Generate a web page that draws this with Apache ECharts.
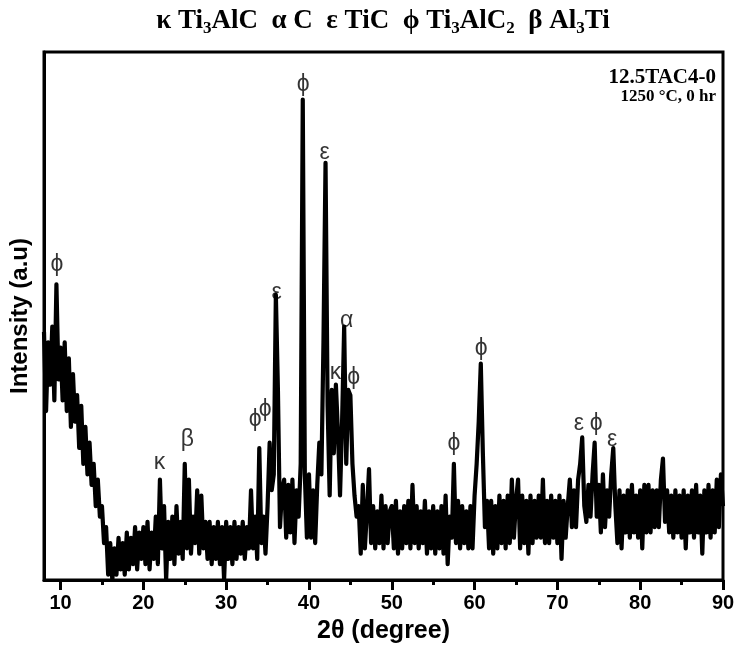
<!DOCTYPE html>
<html>
<head>
<meta charset="utf-8">
<script src="https://cdn.jsdelivr.net/npm/echarts@6/dist/echarts.min.js"></script>
<style>
  html, body { margin: 0; padding: 0; background: #fff; }
  #chart { width: 740px; height: 654px; }
</style>
</head>
<body>
<div id="chart"></div>
<script>
// XRD scan, 2theta from 8 to 90 deg, one value every 0.25 deg
var startAngle = 8;
var stepAngle = 0.25;
var intensity = [
  47, 32, 45, 37,   // 8
  48, 34, 56, 38,   // 9
  44, 34, 45, 32,   // 10
  42, 29, 39, 30,   // 11
  35, 25, 33, 22,   // 12
  29, 20, 26, 18,   // 13
  22, 14, 19, 12,   // 14
  14, 7, 10, 1,     // 15
  7, 0, 6, 1,       // 16
  8, 2, 7, 1,       // 17
  9, 2, 8, 3,       // 18
  10, 2, 9, 4,      // 19
  10, 3, 11, 2,     // 20
  9, 4, 12, 3,      // 21
  19, 6, 14, 0,     // 22
  11, 4, 12, 3,     // 23
  14, 5, 11, 4,     // 24
  22, 6, 19, 5,     // 25
  12, 7, 17, 5,     // 26
  16, 6, 11, 4,     // 27
  11, 3, 10, 4,     // 28
  11, 3, 10, 0,     // 29
  11, 4, 10, 3,     // 30
  11, 4, 10, 5,     // 31
  11, 4, 10, 6,     // 32
  17, 6, 12, 4,     // 33
  25, 7, 12, 5,     // 34
  14, 26, 17, 20,   // 35
  54, 36, 10, 17,   // 36
  19, 8, 18, 9,     // 37
  19, 7, 17, 12,    // 38
  22, 91, 20, 8,    // 39
  20, 8, 17, 7,     // 40
  18, 26, 20, 45,   // 41
  79, 33, 16, 36,   // 42
  24, 37, 28, 16,   // 43
  30, 48, 22, 36,   // 44
  35, 22, 16, 12,   // 45
  14, 5, 18, 6,     // 46
  13, 21, 7, 14,    // 47
  6, 13, 7, 16,     // 48
  6, 14, 7, 13,     // 49
  14, 6, 15, 5,     // 50
  13, 6, 14, 7,     // 51
  15, 6, 18, 7,     // 52
  14, 6, 13, 7,     // 53
  15, 5, 13, 6,     // 54
  14, 5, 13, 6,     // 55
  14, 5, 16, 3,     // 56
  12, 8, 22, 7,     // 57
  15, 6, 14, 7,     // 58
  13, 6, 14, 6,     // 59
  16, 22, 30, 41,   // 60
  24, 10, 15, 6,    // 61
  15, 5, 14, 6,     // 62
  16, 7, 15, 6,     // 63
  16, 7, 19, 8,     // 64
  15, 19, 6, 16,    // 65
  7, 15, 5, 16,     // 66
  7, 15, 8, 16,     // 67
  8, 19, 7, 15,     // 68
  7, 16, 8, 15,     // 69
  7, 16, 4, 15,     // 70
  8, 14, 19, 10,    // 71
  17, 10, 19, 22,   // 72
  27, 14, 11, 18,   // 73
  12, 20, 26, 12,   // 74
  18, 9, 20, 10,    // 75
  17, 12, 20, 25,   // 76
  14, 7, 17, 6,     // 77
  16, 9, 17, 8,     // 78
  18, 9, 16, 8,     // 79
  17, 6, 18, 9,     // 80
  18, 9, 17, 10,    // 81
  17, 10, 19, 23,   // 82
  11, 17, 9, 16,    // 83
  8, 17, 9, 16,     // 84
  8, 17, 6, 16,     // 85
  9, 17, 8, 18,     // 86
  9, 16, 5, 17,     // 87
  9, 18, 8, 17,     // 88
  9, 19, 10, 20,    // 89
  14                // 90
];

// phase marks above the peaks
var peakLetters = ['ϕ', 'κ', 'β', 'ϕ', 'ϕ', 'ε', 'ϕ', 'ε', 'κ', 'α', 'ϕ', 'ϕ', 'ϕ', 'ε', 'ϕ', 'ε'];
var peakAngles = [9.56, 21.95, 25.3, 33.5, 34.7, 36.1, 39.3, 41.9, 43.2, 44.55, 45.4, 57.5, 60.8, 72.6, 74.7, 76.6];
var peakLevels = [59.7, 22.2, 26.5, 30.3, 32.2, 54.4, 93.8, 80.9, 39.2, 49.2, 38.4, 25.9, 43.9, 29.7, 29.7, 26.5];

var majorTicks = [10, 20, 30, 40, 50, 60, 70, 80, 90];
var minorTicks = [15, 25, 35, 45, 55, 65, 75, 85];

var scan = intensity.map(function (v, i) {
  return [startAngle + i * stepAngle, v];
});
var marks = peakLetters.map(function (s, i) {
  return [peakAngles[i], peakLevels[i], s];
});

var chart = echarts.init(document.getElementById('chart'));

var serif = '"Liberation Serif", "Times New Roman", serif';
var sans = '"Liberation Sans", Arial, "DejaVu Sans", sans-serif';

var option = {
  backgroundColor: '#fff',
  animation: false,
  title: [
    {
      text: '{a|κ Ti}{s|3}{a|AlC  α C  ε TiC  ϕ Ti}{s|3}{a|AlC}{s|2}{a|  β Al}{s|3}{a|Ti}',
      left: 378,
      top: 1,
      textAlign: 'center',
      textStyle: {
        rich: {
          a: { fontFamily: serif, fontWeight: 'bold', fontSize: 27, color: '#000', lineHeight: 31 },
          s: { fontFamily: serif, fontWeight: 'bold', fontSize: 17, color: '#000', lineHeight: 17, verticalAlign: 'bottom' }
        }
      }
    },
    {
      text: '12.5TAC4-0',
      subtext: '1250 °C, 0 hr',
      left: 711,
      top: 62,
      textAlign: 'right',
      itemGap: 0,
      textStyle: { fontFamily: serif, fontWeight: 'bold', fontSize: 21, color: '#000' },
      subtextStyle: { fontFamily: serif, fontWeight: 'bold', fontSize: 17, color: '#000' }
    }
  ],
  grid: {
    left: 41, right: 17, top: 52, bottom: 74,
    show: true, borderColor: '#000', borderWidth: 3
  },
  xAxis: [
    {
      type: 'value', min: 8, max: 90,
      axisLine: { show: true, lineStyle: { color: '#000', width: 3 } },
      axisTick: { show: true, customValues: majorTicks, length: 10, lineStyle: { color: '#000', width: 3 } },
      axisLabel: {
        customValues: majorTicks, margin: 13,
        fontFamily: sans, fontWeight: 'bold', fontSize: 20, color: '#000'
      },
      splitLine: { show: false },
      name: '2θ (degree)',
      nameLocation: 'middle',
      nameGap: 39,
      nameTextStyle: { fontFamily: sans, fontWeight: 'bold', fontSize: 25, color: '#000' }
    },
    {
      type: 'value', min: 8, max: 90, position: 'bottom',
      axisLine: { show: false },
      axisTick: { show: true, customValues: minorTicks, length: 5, lineStyle: { color: '#000', width: 3 } },
      axisLabel: { show: false },
      splitLine: { show: false }
    }
  ],
  yAxis: {
    type: 'value', min: 0, max: 100,
    axisLine: { show: true, lineStyle: { color: '#000', width: 3 } },
    axisTick: { show: false },
    axisLabel: { show: false },
    splitLine: { show: false },
    name: 'Intensity (a.u)',
    nameLocation: 'middle',
    nameGap: 12,
    nameTextStyle: { fontFamily: sans, fontWeight: 'bold', fontSize: 24, color: '#000' }
  },
  series: [
    {
      type: 'line',
      data: scan,
      showSymbol: false,
      symbol: 'none',
      sampling: null,
      lineStyle: { color: '#000', width: 4.2, join: 'round' },
      silent: true
    },
    {
      type: 'scatter',
      data: marks,
      symbolSize: 1,
      itemStyle: { color: 'rgba(0,0,0,0)' },
      silent: true,
      label: {
        show: true,
        position: 'inside',
        formatter: function (p) { return p.data[2]; },
        fontFamily: sans,
        fontSize: 23,
        color: '#000'
      }
    }
  ]
};

chart.setOption(option);
</script>
</body>
</html>
